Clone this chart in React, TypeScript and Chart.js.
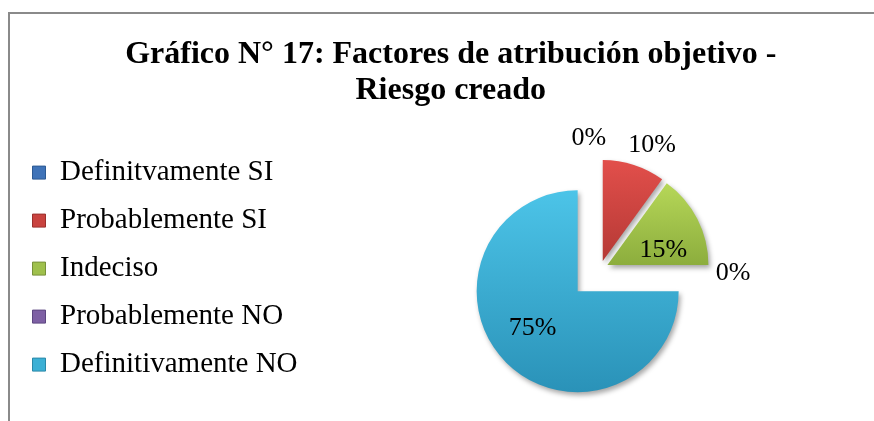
import React, { useEffect, useRef } from "react";
import { Chart, registerables } from "chart.js";

Chart.register(...registerables);

// ---- data ----
const categories = [
  "Definitvamente SI",
  "Probablemente SI",
  "Indeciso",
  "Probablemente NO",
  "Definitivamente NO",
];
const percentages = [0, 10, 15, 0, 75];
const titleLines = ["Gráfico N° 17: Factores de atribución objetivo -", "Riesgo creado"];

// ---- style ----
const SERIF = "'Liberation Serif', 'Times New Roman', Times, serif";
const lightColors = ["#5b91d3", "#e24f4b", "#b6d758", "#8f72b4", "#4cc4e8"];
const darkColors = ["#3a6aa8", "#b53935", "#8cad3d", "#6a4e8e", "#2a92b8"];
const legendColors = ["#3f73b8", "#c9433f", "#9fc04c", "#7e60a4", "#3cb0d5"];
const legendBorders = ["#2d5a93", "#9a302d", "#77913a", "#5d4680", "#2a88a8"];
const explode = [0, 8, 8, 0, 32];
const labelDist = [131, 126, 58, 133, 58];
const labelShiftDeg = [-5, 5, 12, 2, 6];
const PIE_RADIUS = 101;

const TOTAL = percentages.reduce((a, b) => a + b, 0);

function sectorAngles(i: number): [number, number] {
  let acc = 0;
  for (let j = 0; j < i; j++) acc += percentages[j];
  const a0 = -Math.PI / 2 + (2 * Math.PI * acc) / TOTAL;
  const a1 = a0 + (2 * Math.PI * percentages[i]) / TOTAL;
  return [a0, a1];
}

function sliceFill(c: any) {
  const chart = c.chart;
  const i = c.dataIndex;
  const area = chart.chartArea;
  if (!area || i === undefined) return legendColors[i ?? 0];
  const [a0, a1] = sectorAngles(i);
  const mid = (a0 + a1) / 2;
  const cy = (area.top + area.bottom) / 2 + Math.sin(mid) * explode[i];
  let ymin = cy;
  let ymax = cy;
  for (let k = 0; k <= 60; k++) {
    const a = a0 + ((a1 - a0) * k) / 60;
    const y = cy + PIE_RADIUS * Math.sin(a);
    ymin = Math.min(ymin, y);
    ymax = Math.max(ymax, y);
  }
  if (ymax - ymin < 1) return legendColors[i];
  const g = chart.ctx.createLinearGradient(0, ymin, 0, ymax);
  g.addColorStop(0, lightColors[i]);
  g.addColorStop(1, darkColors[i]);
  return g;
}

const explodePlugin = {
  id: "explodeSlices",
  afterDatasetUpdate(chart: any, args: any) {
    const meta = args.meta;
    meta.data.forEach((arc: any, i: number) => {
      const mid = (arc.startAngle + arc.endAngle) / 2;
      arc.x += Math.cos(mid) * explode[i];
      arc.y += Math.sin(mid) * explode[i];
    });
  },
};

const shadowPlugin = {
  id: "sliceShadow",
  beforeDatasetsDraw(chart: any) {
    const ctx = chart.ctx;
    ctx.save();
    ctx.shadowColor = "rgba(0,0,0,0.35)";
    ctx.shadowBlur = 5;
    ctx.shadowOffsetX = 2;
    ctx.shadowOffsetY = 3;
  },
  afterDatasetsDraw(chart: any) {
    chart.ctx.restore();
  },
};

const labelPlugin = {
  id: "sliceLabels",
  afterDraw(chart: any) {
    const meta = chart.getDatasetMeta(0);
    const ctx = chart.ctx;
    ctx.save();
    ctx.font = `26px ${SERIF}`;
    ctx.fillStyle = "#000";
    ctx.textAlign = "center";
    ctx.textBaseline = "middle";
    meta.data.forEach((arc: any, i: number) => {
      const mid = (arc.startAngle + arc.endAngle) / 2 + (labelShiftDeg[i] * Math.PI) / 180;
      const pct = Math.round((percentages[i] / TOTAL) * 100);
      ctx.fillText(`${pct}%`, arc.x + Math.cos(mid) * labelDist[i], arc.y + Math.sin(mid) * labelDist[i]);
    });
    ctx.restore();
  },
};

export default function App() {
  const canvasRef = useRef<HTMLCanvasElement | null>(null);

  useEffect(() => {
    if (!canvasRef.current) return;
    const chart = new Chart(canvasRef.current, {
      type: "pie",
      data: {
        labels: categories,
        datasets: [
          {
            data: percentages,
            backgroundColor: sliceFill as any,
            borderWidth: 0,
            offset: 0,
            hoverOffset: 0,
            radius: PIE_RADIUS,
          } as any,
        ],
      },
      options: {
        responsive: false,
        animation: false,
        events: [],
        layout: { padding: { left: 13.5, right: -14, top: 0, bottom: 0 } },
        plugins: {
          title: {
            display: true,
            text: titleLines,
            color: "#000",
            font: { family: SERIF, size: 32, weight: "bold", lineHeight: 1.125 },
            padding: { top: 37.2, bottom: 7 },
          },
          subtitle: {
            display: true,
            position: "left",
            fullSize: false,
            weight: 500,
            text: "",
            padding: 0,
            font: { size: 19, lineHeight: 1 },
          },
          legend: {
            position: "left",
            align: "center",
            fullSize: false,
            maxWidth: 420,
            labels: {
              color: "#000",
              font: { family: SERIF, size: 29 },
              boxWidth: 13,
              boxHeight: 13,
              padding: 19,
              generateLabels: () =>
                categories.map((t, i) => ({
                  text: t,
                  fillStyle: legendColors[i],
                  strokeStyle: legendBorders[i],
                  lineWidth: 1,
                  hidden: false,
                  index: i,
                  fontColor: "#000",
                })),
            },
          },
          tooltip: { enabled: false },
        },
      } as any,
      plugins: [explodePlugin, shadowPlugin, labelPlugin],
    });
    return () => chart.destroy();
  }, []);

  return (
    <div
      style={{
        position: "absolute",
        left: 0,
        top: 0,
        width: 874,
        height: 421,
        background: "#fff",
        overflow: "hidden",
      }}
    >
      <div
        style={{
          position: "absolute",
          left: 8,
          top: 12,
          width: 866,
          height: 409,
          borderTop: "2px solid #8a8a8a",
          borderLeft: "2px solid #8a8a8a",
          boxSizing: "border-box",
        }}
      />
      <canvas
        ref={canvasRef}
        width={874}
        height={421}
        style={{ position: "absolute", left: 0, top: 0, width: 874, height: 421 }}
      />
    </div>
  );
}
